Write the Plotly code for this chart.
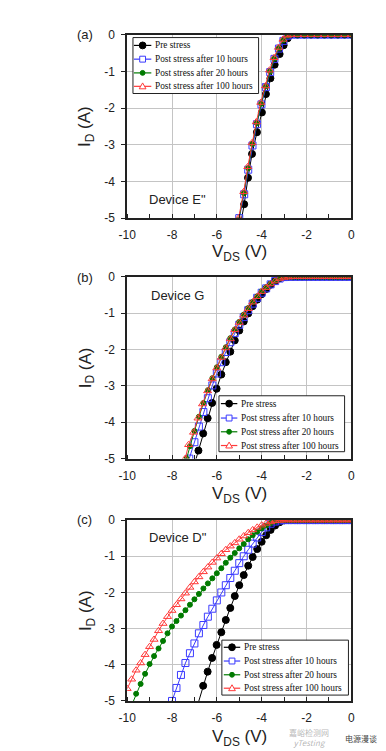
import plotly.graph_objects as go

# ---------------- data ----------------
series_names = ["Pre stress", "Post stress after 10 hours",
                "Post stress after 20 hours", "Post stress after 100 hours"]
panel_labels = ["(a)", "(b)", "(c)"]
device_labels = ['Device E"', "Device G", 'Device D"']
x_ticks = [-10, -8, -6, -4, -2, 0]
y_ticks = [-5, -4, -3, -2, -1, 0]

# Panel (a) - Device E"
a_flat_v = [-2.4, -2.1, -1.8, -1.5, -1.2, -0.9, -0.6, -0.3, 0.0]
a_flat_i = [0, 0, 0, 0, 0, 0, 0, 0, 0]
a_pre_v = [-4.95, -4.78, -4.61, -4.43, -4.21, -3.99, -3.81, -3.61, -3.42, -3.2, -3.02, -2.84, -2.7]
a_pre_i = [-5.2, -4.62, -3.9, -3.25, -2.66, -2.12, -1.62, -1.19, -0.82, -0.53, -0.29, -0.1, 0]
a_10h_v = [-5.0, -4.78, -4.6, -4.41, -4.21, -4.01, -3.81, -3.62, -3.43, -3.23, -3.03, -2.85, -2.7]
a_10h_i = [-5.0, -4.35, -3.68, -3.02, -2.44, -1.9, -1.43, -1.02, -0.66, -0.38, -0.17, -0.03, 0]
a_20h_v = [-5.02, -4.79, -4.6, -4.42, -4.22, -4.02, -3.82, -3.63, -3.44, -3.24, -3.04, -2.84, -2.7]
a_20h_i = [-5.05, -4.32, -3.64, -2.98, -2.41, -1.88, -1.41, -1.0, -0.65, -0.37, -0.15, -0.03, 0]
a_100h_v = [-5.03, -4.8, -4.62, -4.43, -4.24, -4.04, -3.83, -3.65, -3.45, -3.25, -3.05, -2.85, -2.7]
a_100h_i = [-5.0, -4.28, -3.6, -2.95, -2.38, -1.85, -1.4, -0.97, -0.63, -0.35, -0.13, -0.02, 0]

# Panel (b) - Device G
b_flat_v = [-2.6, -2.4, -2.2, -2.0, -1.8, -1.6, -1.4, -1.2, -1.0, -0.8, -0.6, -0.4, -0.2, 0.0]
b_flat_i = [0, 0, 0, 0, 0, 0, 0, 0, 0, 0, 0, 0, 0, 0]
b_pre_v = [-7.02, -6.82, -6.61, -6.41, -6.21, -6.01, -5.8, -5.6, -5.4, -5.2, -5.0, -4.8, -4.6,
           -4.4, -4.2, -4.0, -3.8, -3.6, -3.4, -3.2, -3.0, -2.8]
b_pre_i = [-5.2, -4.78, -4.31, -3.89, -3.47, -3.08, -2.69, -2.35, -2.06, -1.75, -1.48, -1.23, -1.01,
           -0.81, -0.63, -0.48, -0.34, -0.22, -0.12, -0.04, -0.01, 0.0]
b_10h_v = [-7.23, -7.0, -6.8, -6.6, -6.4, -6.2, -6.0, -5.8, -5.6, -5.4, -5.2, -5.0, -4.8, -4.6,
           -4.4, -4.2, -4.0, -3.8, -3.6, -3.4, -3.2, -3.0, -2.8]
b_10h_i = [-5.0, -4.55, -4.12, -3.72, -3.34, -2.99, -2.66, -2.35, -2.07, -1.8, -1.55, -1.32, -1.11, -0.92,
           -0.74, -0.58, -0.44, -0.32, -0.21, -0.12, -0.05, -0.01, 0.0]
b_20h_v = [-7.35, -7.2, -7.0, -6.8, -6.6, -6.4, -6.2, -6.0, -5.8, -5.6, -5.4, -5.2, -5.0, -4.8,
           -4.6, -4.4, -4.2, -4.0, -3.8, -3.6, -3.4, -3.2, -3.0, -2.8]
b_20h_i = [-5.0, -4.66, -4.24, -3.85, -3.47, -3.12, -2.79, -2.49, -2.2, -1.94, -1.69, -1.45, -1.24, -1.04,
           -0.86, -0.69, -0.54, -0.4, -0.29, -0.19, -0.11, -0.05, -0.01, 0.0]
b_100h_v = [-7.41, -7.26, -7.04, -6.84, -6.64, -6.41, -6.21, -6.0, -5.8, -5.6, -5.4, -5.2, -5.0, -4.8,
            -4.6, -4.4, -4.2, -4.0, -3.8, -3.6, -3.4, -3.2, -3.0, -2.8]
b_100h_i = [-5.0, -4.62, -4.28, -3.89, -3.5, -3.14, -2.81, -2.51, -2.22, -1.96, -1.71, -1.46, -1.26, -1.06,
            -0.88, -0.7, -0.55, -0.41, -0.3, -0.2, -0.12, -0.05, -0.02, -0.01]

# Panel (c) - Device D"
c_flat_v = [-2.8, -2.6, -2.4, -2.2, -2.0, -1.8, -1.6, -1.4, -1.2, -1.0, -0.8, -0.6, -0.4, -0.2, 0.0]
c_flat_i = [0, 0, 0, 0, 0, 0, 0, 0, 0, 0, 0, 0, 0, 0, 0]
c_pre_v = [-6.9, -6.61, -6.41, -6.21, -6.01, -5.8, -5.6, -5.4, -5.2, -5.0, -4.8, -4.6, -4.4, -4.2,
           -4.0, -3.8, -3.6, -3.4, -3.2, -3.0]
c_pre_i = [-5.2, -4.58, -4.19, -3.81, -3.45, -3.1, -2.76, -2.43, -2.1, -1.8, -1.52, -1.26, -1.02, -0.8,
           -0.6, -0.42, -0.27, -0.15, -0.06, -0.01]
c_10h_v = [-8.0, -7.8, -7.6, -7.4, -7.2, -7.0, -6.8, -6.6, -6.4, -6.2, -6.0, -5.8, -5.6, -5.4, -5.2,
           -5.0, -4.8, -4.6, -4.4, -4.2, -4.0, -3.8, -3.6, -3.4, -3.2, -3.0]
c_10h_i = [-5.0, -4.64, -4.28, -3.95, -3.68, -3.41, -3.13, -2.9, -2.67, -2.45, -2.22, -2.0, -1.8, -1.6, -1.4,
           -1.19, -1.0, -0.82, -0.65, -0.48, -0.33, -0.2, -0.1, -0.04, -0.01, 0.0]
c_20h_v = [-9.8, -9.6, -9.4, -9.2, -9.0, -8.8, -8.6, -8.4, -8.2, -8.0, -7.8, -7.6, -7.4, -7.2, -7.0,
           -6.8, -6.6, -6.4, -6.2, -6.0, -5.8, -5.6, -5.4, -5.2, -5.0, -4.8, -4.6, -4.4, -4.2, -4.0,
           -3.8, -3.6, -3.4, -3.2, -3.0]
c_20h_i = [-5.12, -4.8, -4.53, -4.25, -3.98, -3.76, -3.55, -3.34, -3.13, -2.94, -2.79, -2.64, -2.49, -2.34, -2.19,
           -2.04, -1.89, -1.75, -1.61, -1.47, -1.33, -1.18, -1.04, -0.91, -0.78, -0.66, -0.53, -0.42, -0.32, -0.23,
           -0.15, -0.08, -0.03, -0.01, 0.0]
c_100h_v = [-10.0, -9.8, -9.6, -9.4, -9.2, -9.0, -8.8, -8.6, -8.4, -8.2, -8.0, -7.8, -7.6, -7.4, -7.2, -7.0,
            -6.8, -6.6, -6.4, -6.2, -6.0, -5.8, -5.6, -5.4, -5.2, -5.0, -4.8, -4.6, -4.4, -4.2, -4.0,
            -3.8, -3.6, -3.4, -3.2, -3.0]
c_100h_i = [-4.66, -4.4, -4.15, -3.95, -3.72, -3.5, -3.3, -3.06, -2.86, -2.67, -2.5, -2.34, -2.18, -2.02, -1.86, -1.71,
            -1.57, -1.43, -1.3, -1.17, -1.05, -0.93, -0.82, -0.72, -0.63, -0.53, -0.44, -0.35, -0.27, -0.2, -0.14,
            -0.09, -0.05, -0.02, -0.01, 0.0]

panels = [
    (a_flat_v, a_flat_i, [(a_pre_v, a_pre_i), (a_10h_v, a_10h_i), (a_20h_v, a_20h_i), (a_100h_v, a_100h_i)]),
    (b_flat_v, b_flat_i, [(b_pre_v, b_pre_i), (b_10h_v, b_10h_i), (b_20h_v, b_20h_i), (b_100h_v, b_100h_i)]),
    (c_flat_v, c_flat_i, [(c_pre_v, c_pre_i), (c_10h_v, c_10h_i), (c_20h_v, c_20h_i), (c_100h_v, c_100h_i)]),
]

# ---------------- styling ----------------
W, H = 386, 751
BLACK, BLUE, GREEN, RED = "#000000", "#3b3bff", "#007a00", "#ff3a3a"
styles = [
    dict(color=BLACK, symbol="circle", size=7),
    dict(color=BLUE, symbol="square-open", size=7),
    dict(color=GREEN, symbol="circle", size=5),
    dict(color=RED, symbol="triangle-up-open", size=7),
]
SANS = "Liberation Sans, Arial, sans-serif"
SERIF = "Liberation Serif, Times New Roman, serif"


def fx(px):
    return px / W


def fy(py):
    return 1 - py / H


# plot area pixel boxes (left, right, top, bottom)
boxes = [(114, 346, 20, 207), (114, 346, 266.7, 452), (114, 346, 514.7, 699)]

fig = go.Figure()

for k, (flat_v, flat_i, series) in enumerate(panels):
    xa = "x" if k == 0 else f"x{k + 1}"
    ya = "y" if k == 0 else f"y{k + 1}"
    for (v, i), st, name in zip(series, styles, series_names):
        fig.add_trace(go.Scatter(
            x=v + flat_v, y=i + flat_i, mode="lines+markers", name=name,
            xaxis=xa, yaxis=ya, showlegend=False,
            line=dict(color=st["color"], width=1),
            marker=dict(symbol=st["symbol"], size=st["size"], color=st["color"],
                        line=dict(color=st["color"], width=1)),
        ))

layout = dict(width=W, height=H, margin=dict(l=0, r=0, t=0, b=0),
              paper_bgcolor="white", plot_bgcolor="white", showlegend=False)

for k, (l, r, t, b) in enumerate(boxes):
    sx = "" if k == 0 else str(k + 1)
    layout["xaxis" + sx] = dict(
        domain=[fx(l), fx(r)], anchor="y" + sx, range=[-10, 0],
        tickvals=x_ticks, ticktext=[str(t_) for t_ in x_ticks],
        showgrid=True, gridcolor="#c4c4c4", gridwidth=1,
        showline=True, mirror=True, linecolor="#222222", linewidth=1.5,
        ticks="", zeroline=False, ticklabelstandoff=5,
        minor=dict(dtick=1, ticks="inside", ticklen=4, tickcolor="#222222", showgrid=False),
        tickfont=dict(family=SANS, size=12, color="#222222"), fixedrange=True,
    )
    layout["yaxis" + sx] = dict(
        domain=[fy(b), fy(t)], anchor="x" + sx, range=[-5, 0],
        tickvals=y_ticks, ticktext=[str(t_) for t_ in y_ticks],
        showgrid=True, gridcolor="#c4c4c4", gridwidth=1,
        showline=True, mirror=True, linecolor="#222222", linewidth=1.5,
        ticks="outside", ticklen=4, tickcolor="#222222", zeroline=False,
        ticklabelstandoff=4,
        tickfont=dict(family=SANS, size=12, color="#222222"), fixedrange=True,
    )

fig.update_layout(**layout)

annotations = []
shapes = []

title_ys = [243, 489, 737]
dev_pos = [(135, 188), (137, 286), (135, 532)]
label_ys = [20, 267, 514]
for k, (l, r, t, b) in enumerate(boxes):
    # axis titles
    annotations.append(dict(x=fx(72), y=fy((t + b) / 2), xref="paper", yref="paper",
                            text="I<sub>D</sub> (A)", textangle=-90, showarrow=False,
                            font=dict(family=SANS, size=17, color="#222222"),
                            xanchor="center", yanchor="middle"))
    annotations.append(dict(x=fx((l + r) / 2), y=fy(title_ys[k]), xref="paper", yref="paper",
                            text="V<sub>DS</sub> (V)", showarrow=False,
                            font=dict(family=SANS, size=17, color="#222222"),
                            xanchor="center", yanchor="middle"))
    # panel letter
    annotations.append(dict(x=fx(70), y=fy(label_ys[k]), xref="paper", yref="paper",
                            text=panel_labels[k], showarrow=False,
                            font=dict(family=SANS, size=13, color="#222222"),
                            xanchor="center", yanchor="middle"))
    # device label
    annotations.append(dict(x=fx(dev_pos[k][0]), y=fy(dev_pos[k][1]), xref="paper", yref="paper",
                            text=device_labels[k], showarrow=False,
                            font=dict(family=SANS, size=13, color="#222222"),
                            xanchor="left", yanchor="middle"))

# hand-drawn legends: (box left, right, top, bottom, sample x0, sample x1, text x, row ys)
legends = [
    (120, 250, 23, 80, 121, 139, 141, [31, 45, 59, 72.7]),
    (209, 339, 388, 445, 211, 228, 230, [396, 410.7, 424.7, 438.7]),
    (212, 343, 637, 693, 214, 231, 233, [644.3, 658.3, 672.3, 686]),
]
for (l, r, t, b, s0, s1, tx, rows) in legends:
    shapes.append(dict(type="rect", xref="paper", yref="paper", x0=fx(l), x1=fx(r), y0=fy(b), y1=fy(t),
                       line=dict(color="#222222", width=1), fillcolor="white", layer="above"))
    for st, name, ry in zip(styles, series_names, rows):
        c = st["color"]
        shapes.append(dict(type="line", xref="paper", yref="paper", x0=fx(s0), x1=fx(s1),
                           y0=fy(ry), y1=fy(ry), line=dict(color=c, width=1.2), layer="above"))
        mx = (s0 + s1) / 2
        hs = st["size"] / 2
        if st["symbol"] == "circle":
            shapes.append(dict(type="circle", xref="paper", yref="paper",
                               x0=fx(mx - hs), x1=fx(mx + hs), y0=fy(ry + hs), y1=fy(ry - hs),
                               line=dict(color=c, width=1), fillcolor=c, layer="above"))
        elif st["symbol"] == "square-open":
            shapes.append(dict(type="rect", xref="paper", yref="paper",
                               x0=fx(mx - hs + 0.5), x1=fx(mx + hs - 0.5), y0=fy(ry + hs - 0.5), y1=fy(ry - hs + 0.5),
                               line=dict(color=c, width=1), fillcolor="white", layer="above"))
        else:
            path = (f"M {fx(mx)},{fy(ry - hs)} L {fx(mx + hs)},{fy(ry + hs - 1)} "
                    f"L {fx(mx - hs)},{fy(ry + hs - 1)} Z")
            shapes.append(dict(type="path", xref="paper", yref="paper", path=path,
                               line=dict(color=c, width=1), fillcolor="white", layer="above"))
        annotations.append(dict(x=fx(tx), y=fy(ry), xref="paper", yref="paper", text=name,
                                showarrow=False, xanchor="left", yanchor="middle",
                                font=dict(family=SERIF, size=9.3, color="#111111")))

# faint watermark seen on the source image (placed clear of the tick labels)
annotations.append(dict(x=fx(302), y=fy(736), xref="paper", yref="paper",
                        text="嘉峪检测网<br><i>yTesting</i>",
                        showarrow=False, xanchor="center", yanchor="middle",
                        font=dict(family="Noto Sans CJK SC", size=8, color="rgba(150,150,150,0.7)")))
annotations.append(dict(x=fx(356), y=fy(737), xref="paper", yref="paper", text="电源漫谈",
                        showarrow=False, xanchor="center", yanchor="middle",
                        font=dict(family="Noto Sans CJK SC", size=8, color="#444444")))

fig.update_layout(annotations=annotations, shapes=shapes)
fig.write_html("out.html")
